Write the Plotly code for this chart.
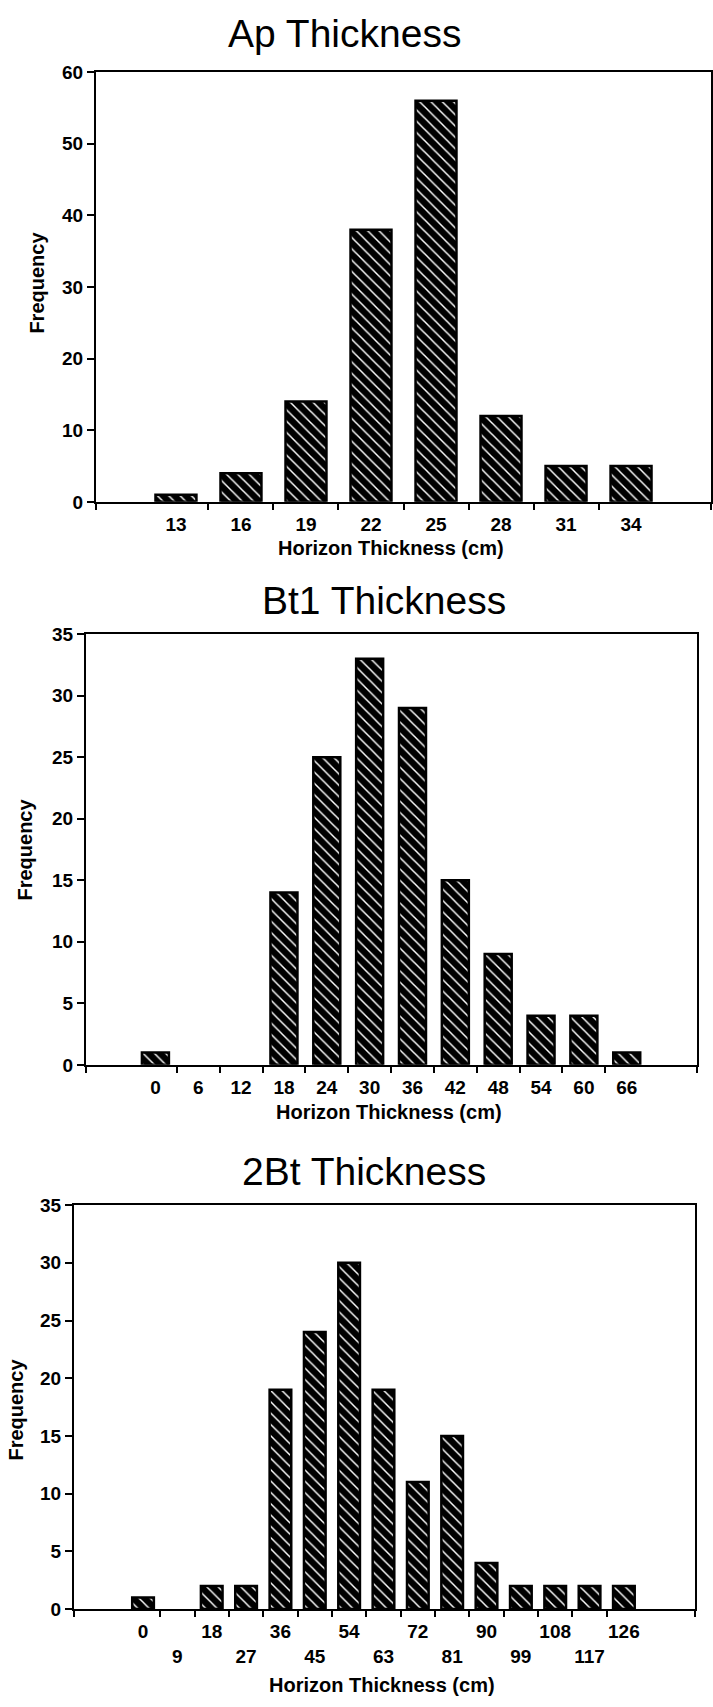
import plotly.graph_objects as go

W, H = 713, 1707

# ---- data ----
ap_labels = ["13", "16", "19", "22", "25", "28", "31", "34"]
ap_freq = [1, 4, 14, 38, 56, 12, 5, 5]

bt1_labels = ["0", "6", "12", "18", "24", "30", "36", "42", "48", "54", "60", "66"]
bt1_freq = [1, 0, 0, 14, 25, 33, 29, 15, 9, 4, 4, 1]

bt2_labels = ["0", "9", "18", "27", "36", "45", "54", "63", "72", "81", "90", "99", "108", "117", "126"]
bt2_freq = [1, 0, 2, 2, 19, 24, 30, 19, 11, 15, 4, 2, 2, 2, 2]

titles = ["Ap Thickness", "Bt1 Thickness", "2Bt Thickness"]
x_title = "Horizon Thickness (cm)"
y_title = "Frequency"

FONT = "Liberation Sans, Arial, Helvetica, sans-serif"

panels = [
    dict(labels=ap_labels, freq=ap_freq, l=96, r=711, t=63, b=498, xr=(-1.23, 8.23), ymax=60, dt=10,
         tx=344, ty=24, xtx=391, xty=545, ytx=37, yty=276, two_rows=False),
    dict(labels=bt1_labels, freq=bt1_freq, l=86, r=697, t=632, b=1068, xr=(-1.62, 12.64), ymax=35, dt=5,
         tx=384, ty=598, xtx=389, xty=1116, ytx=25, yty=850, two_rows=False),
    dict(labels=bt2_labels, freq=bt2_freq, l=74, r=695, t=1210, b=1619, xr=(-2.01, 16.07), ymax=35, dt=5,
         tx=364, ty=1176, xtx=382, xty=1696, ytx=16, yty=1417, two_rows=True),
]

fig = go.Figure()
annotations = []
layout_axes = {}

for i, p in enumerate(panels):
    n = len(p["labels"])
    xs = list(range(n))
    ax = "" if i == 0 else str(i + 1)
    fig.add_trace(go.Bar(
        x=xs, y=p["freq"], width=0.63,
        xaxis="x" + ax, yaxis="y" + ax,
        marker=dict(
            color="black",
            line=dict(color="black", width=[2.5 if v > 0 else 0 for v in p["freq"]]),
            pattern=dict(shape="\\", fgcolor="white", bgcolor="black", size=8, solidity=0.18, fillmode="replace"),
        ),
        showlegend=False,
    ))
    if p["two_rows"]:
        ticktext = [lab if k % 2 == 0 else "<br>" + lab for k, lab in enumerate(p["labels"])]
    else:
        ticktext = p["labels"]
    minor_vals = [p["xr"][0]] + [k + 0.5 for k in range(n - 1)] + [p["xr"][1]]
    layout_axes["xaxis" + ax] = dict(
        domain=[p["l"] / W, p["r"] / W],
        anchor="y" + ax,
        range=list(p["xr"]),
        tickmode="array", tickvals=xs, ticktext=ticktext,
        ticks="", ticklen=0, ticklabelstandoff=4,
        tickfont=dict(family=FONT, size=19, color="black", weight="bold"),
        showline=True, linecolor="black", linewidth=2, mirror=True,
        showgrid=False, zeroline=False, fixedrange=True,
        minor=dict(tickmode="array", tickvals=minor_vals, ticks="outside", ticklen=6,
                   tickwidth=2, tickcolor="black", showgrid=False),
    )
    layout_axes["yaxis" + ax] = dict(
        domain=[1 - p["b"] / H, 1 - p["t"] / H],
        anchor="x" + ax,
        range=[0, p["ymax"]], dtick=p["dt"], tick0=0,
        ticks="outside", ticklen=7, tickwidth=2, tickcolor="black",
        tickfont=dict(family=FONT, size=19, color="black", weight="bold"),
        showline=True, linecolor="black", linewidth=2, mirror=True,
        showgrid=False, zeroline=False, fixedrange=True,
    )
    annotations.append(dict(text=titles[i], x=p["tx"] / W, y=1 - p["ty"] / H, xref="paper", yref="paper",
                            showarrow=False, xanchor="center", yanchor="middle",
                            font=dict(family=FONT, size=39, color="black")))
    annotations.append(dict(text=x_title, x=p["xtx"] / W, y=1 - p["xty"] / H, xref="paper", yref="paper",
                            showarrow=False, xanchor="center", yanchor="middle",
                            font=dict(family=FONT, size=20, color="black", weight="bold")))
    annotations.append(dict(text=y_title, x=p["ytx"] / W, y=1 - p["yty"] / H, xref="paper",
                            yref="paper", showarrow=False, xanchor="center", yanchor="middle", textangle=-90,
                            font=dict(family=FONT, size=20, color="black", weight="bold")))

fig.update_layout(
    width=W, height=H,
    margin=dict(l=0, r=0, t=0, b=0),
    paper_bgcolor="white", plot_bgcolor="white",
    bargap=0.37,
    annotations=annotations,
    **layout_axes,
)

fig.write_html("out.html", config={"displayModeBar": False})
